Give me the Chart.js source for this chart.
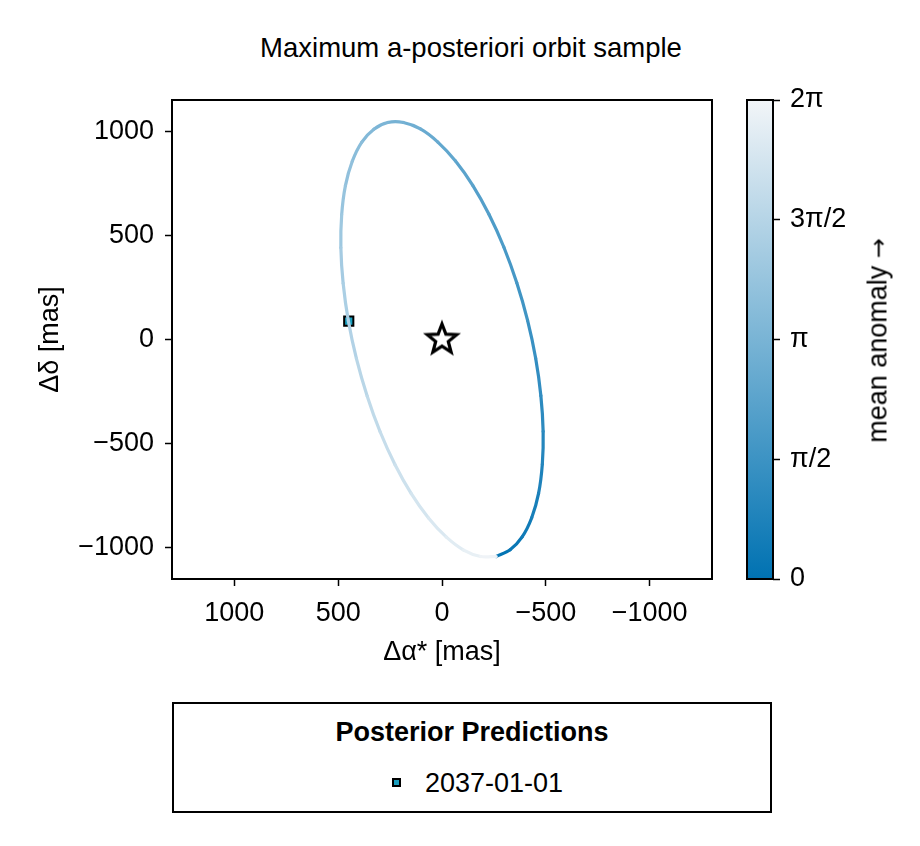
<!DOCTYPE html>
<html>
<head>
<meta charset="utf-8">
<script src="https://cdn.jsdelivr.net/npm/chart.js@4.4.1/dist/chart.umd.min.js"></script>
<style>
  body { margin: 0; background: #fff; }
  #page { position: relative; width: 920px; height: 846px; overflow: hidden;
          font-family: "Liberation Sans", Arial, sans-serif; color: #000; }
  #page canvas { position: absolute; top: 0; }
  #orbitChart { left: 0; }
  #colorbarChart { left: 700px; }
  .txt { position: absolute; white-space: nowrap; line-height: 32px; font-size: 27px; }
  #title { left: 0; width: 942px; top: 32px; text-align: center; font-size: 27.5px; }
  #cbLabel { left: 748px; width: 260px; top: 324px; text-align: center; transform-origin: 50% 50%;
             transform: rotate(-90deg); }
  #cbLabel .arrow { font-family: "DejaVu Sans", sans-serif; font-size: 24px; }
  #legendBox { position: absolute; left: 172px; top: 702px; width: 600px; height: 111px;
               box-sizing: border-box; border: 2px solid #000; }
  #legendTitle { left: 172px; width: 600px; top: 716px; text-align: center; font-weight: bold; }
  #legendText { left: 425px; top: 767px; }
  #legendMarker { position: absolute; left: 392px; top: 778px; width: 9px; height: 9px;
                  box-sizing: border-box; border: 2px solid #000; background: #1a9fbf; }
</style>
</head>
<body>
<div id="page">
  <div id="title" class="txt">Maximum a-posteriori orbit sample</div>
  <canvas id="orbitChart" width="740" height="690"></canvas>
  <canvas id="colorbarChart" width="220" height="690"></canvas>
  <div id="cbLabel" class="txt">mean anomaly <span class="arrow">→</span></div>
  <div id="legendBox"></div>
  <div id="legendTitle" class="txt">Posterior Predictions</div>
  <div id="legendMarker"></div>
  <div id="legendText" class="txt">2037-01-01</div>
</div>
<script>
// orbit track, one point every 10 deg of mean anomaly
const orbitMeanAnomalyDeg = [0, 10, 20, 30, 40, 50, 60, 70, 80, 90, 100, 110, 120, 130, 140, 150, 160, 170,
    180, 190, 200, 210, 220, 230, 240, 250, 260, 270, 280, 290, 300, 310, 320, 330, 340, 350, 360];
const orbitRA = [-261, -328, -386, -432, -465, -483, -487, -476, -451, -412, -360, -298, -226, -148, -65, 20, 104, 186,
    261, 328, 386, 432, 465, 483, 487, 476, 451, 412, 360, 298, 226, 148, 65, -20, -104, -186, -261];
const orbitDec = [-1042, -1010, -948, -856, -739, -599, -441, -270, -90, 92, 272, 443, 601, 740, 857, 948, 1011, 1042,
    1042, 1010, 948, 856, 739, 599, 441, 270, 90, -92, -272, -443, -601, -740, -857, -948, -1011, -1042, -1042];

// posterior prediction epoch and host star
const predictionLabels = ["2037-01-01"];
const predictionRA = [449];
const predictionDec = [88];
const starRA = [0];
const starDec = [0];

const xTickValues = [1000, 500, 0, -500, -1000];
const yTickValues = [-1000, -500, 0, 500, 1000];
const cbTickValues = [0, Math.PI / 2, Math.PI, 3 * Math.PI / 2, 2 * Math.PI];
const cbTickLabels = ["0", "π/2", "π", "3π/2", "2π"];
const colorbarRange = [0, 2 * Math.PI];

const FONT = "'Liberation Sans', Arial, sans-serif";
Chart.defaults.font.family = FONT;
Chart.defaults.font.size = 27;
Chart.defaults.color = "#000";

const lowColor = [0, 114, 178];
const highColor = [242, 245, 248];

function cmap(value) {
    const f = Math.min(Math.max(value / (2 * Math.PI), 0), 1);
    const c = lowColor.map((v, i) => Math.round(v + (highColor[i] - v) * f));
    return `rgb(${c[0]}, ${c[1]}, ${c[2]})`;
}

function minusSign(value) {
    return value < 0 ? "\u2212" + Math.abs(value) : String(value);
}

function makeStar() {
    const canvas = document.createElement("canvas");
    canvas.width = 48;
    canvas.height = 48;
    const g = canvas.getContext("2d");
    g.beginPath();
    for (let i = 0; i < 10; i++) {
        const r = i % 2 === 0 ? 15.5 : 6.6;
        const a = -Math.PI / 2 + i * Math.PI / 5;
        const px = 24 + r * Math.cos(a);
        const py = 24 + r * Math.sin(a);
        if (i === 0) g.moveTo(px, py); else g.lineTo(px, py);
    }
    g.closePath();
    g.fillStyle = "#fff";
    g.fill();
    g.lineWidth = 3.2;
    g.strokeStyle = "#000";
    g.stroke();
    return canvas;
}

const frameBox = {
    id: "frameBox",
    afterDraw(chart) {
        const { ctx, chartArea: a } = chart;
        ctx.save();
        ctx.strokeStyle = "#000";
        ctx.lineWidth = 2;
        ctx.strokeRect(a.left, a.top, a.right - a.left, a.bottom - a.top);
        ctx.restore();
    }
};

const tickGrid = {
    display: true,
    drawOnChartArea: false,
    drawTicks: true,
    tickLength: 7,
    tickWidth: 1.5,
    tickColor: "#000"
};

const orbitMA = orbitMeanAnomalyDeg.map((d) => d * Math.PI / 180);

new Chart(document.getElementById("orbitChart"), {
    type: "scatter",
    data: {
        datasets: [
            {
                label: "orbit",
                data: orbitRA.map((x, i) => ({ x, y: orbitDec[i] })),
                showLine: true,
                pointRadius: 0,
                pointHoverRadius: 0,
                borderWidth: 3.2,
                borderCapStyle: "round",
                tension: 0.3,
                segment: {
                    borderColor: (ctx) => cmap((orbitMA[ctx.p0DataIndex] + orbitMA[ctx.p1DataIndex]) / 2)
                }
            },
            {
                label: predictionLabels[0],
                data: predictionRA.map((x, i) => ({ x, y: predictionDec[i] })),
                pointStyle: "rect",
                pointRadius: 6.5,
                backgroundColor: "#1a9fbf",
                borderColor: "#000",
                borderWidth: 2
            },
            {
                label: "star",
                data: starRA.map((x, i) => ({ x, y: starDec[i] })),
                pointStyle: makeStar(),
                pointRadius: 15
            }
        ]
    },
    options: {
        responsive: false,
        animation: false,
        events: [],
        layout: { padding: { top: 100, right: 28, bottom: 0, left: 0 } },
        plugins: { legend: { display: false }, tooltip: { enabled: false } },
        scales: {
            x: {
                type: "linear",
                reverse: true,
                min: -1300,
                max: 1300,
                afterBuildTicks: (scale) => { scale.ticks = xTickValues.map((value) => ({ value })); },
                afterFit: (scale) => { scale.height = 111; },
                ticks: { padding: 11, autoSkip: false, maxRotation: 0, callback: (v) => minusSign(v) },
                grid: tickGrid,
                border: { display: false },
                title: { display: true, text: "Δα* [mas]", padding: { top: 0, bottom: 21 } }
            },
            y: {
                type: "linear",
                min: -1150,
                max: 1150,
                afterBuildTicks: (scale) => { scale.ticks = yTickValues.map((value) => ({ value })); },
                afterFit: (scale) => { scale.width = 172; },
                ticks: { padding: 11, autoSkip: false, callback: (v) => minusSign(v) },
                grid: tickGrid,
                border: { display: false },
                title: { display: true, text: "Δδ [mas]", padding: { top: 34, bottom: 0 } }
            }
        }
    },
    plugins: [frameBox]
});

new Chart(document.getElementById("colorbarChart"), {
    type: "bar",
    data: {
        labels: ["mean anomaly"],
        datasets: [{
            data: [colorbarRange],
            barPercentage: 1,
            categoryPercentage: 1,
            borderWidth: 0,
            backgroundColor: (ctx) => {
                const area = ctx.chart.chartArea;
                if (!area) return cmap(0);
                const g = ctx.chart.ctx.createLinearGradient(0, area.bottom, 0, area.top);
                g.addColorStop(0, cmap(colorbarRange[0]));
                g.addColorStop(0.5, cmap((colorbarRange[0] + colorbarRange[1]) / 2));
                g.addColorStop(1, cmap(colorbarRange[1]));
                return g;
            }
        }]
    },
    options: {
        responsive: false,
        animation: false,
        events: [],
        layout: { padding: { top: 100, right: 0, bottom: 111, left: 47 } },
        plugins: { legend: { display: false }, tooltip: { enabled: false } },
        scales: {
            x: { display: false },
            y: {
                position: "right",
                min: 0,
                max: 2 * Math.PI,
                afterBuildTicks: (scale) => { scale.ticks = cbTickValues.map((value) => ({ value })); },
                afterFit: (scale) => { scale.width = 147; },
                ticks: { padding: 10, autoSkip: false, callback: (v, i) => cbTickLabels[i] },
                grid: tickGrid,
                border: { display: false }
            }
        }
    },
    plugins: [frameBox]
});
</script>
</body>
</html>
